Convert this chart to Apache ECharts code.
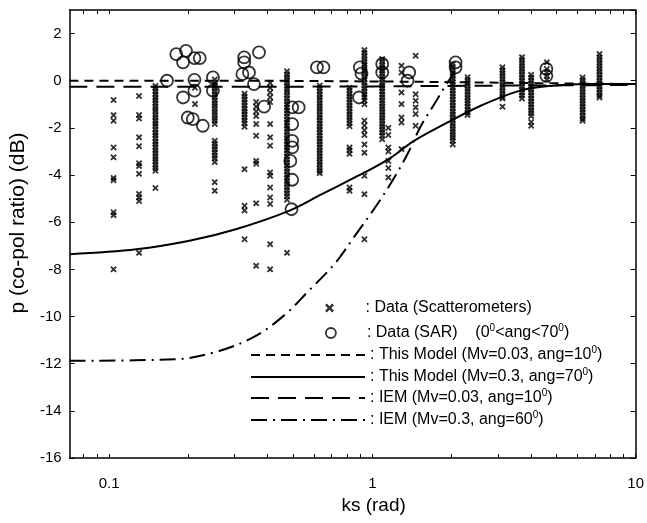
<!DOCTYPE html>
<html><head><meta charset="utf-8">
<script src="https://cdn.jsdelivr.net/npm/echarts@6/dist/echarts.min.js"></script>
<style>html,body{margin:0;padding:0;background:#fff}#c{width:647px;height:523px}</style>
</head><body><div id="c"></div>
<script>
// ---- axis ticks ----
const xMajorTicks = [0.1, 1, 10];
const xMinorTicks = [0.08, 0.09, 0.2, 0.3, 0.4, 0.5, 0.6, 0.7, 0.8, 0.9, 2, 3, 4, 5, 6, 7, 8, 9];
const xMin = 0.0708, xMax = 10;
const yMin = -16, yMax = 3, yStep = 2;

// ---- scatterometer data: one ks per column, list of p values (dB) ----
const scatKs = [0.104, 0.130, 0.150, 0.212, 0.252, 0.327, 0.362, 0.409, 0.474, 0.631, 0.819, 0.933,
  1.09, 1.15, 1.29, 1.46, 2.02, 2.30, 3.12, 3.70, 4.01, 4.60, 6.29, 7.29];
const scatP = [
  [-0.82, -1.46, -1.70, -2.83, -3.25, -4.12, -4.22, -5.58, -5.70, -8.0],
  [-0.65, -1.45, -1.60, -2.40, -2.78, -3.50, -3.62, -3.95, -4.80, -4.95, -5.10, -7.3],
  [-0.22,-0.33,-0.46,-0.58,-0.71,-0.83,-0.95,-1.08,-1.2,-1.31,-1.45,-1.57,-1.7,-1.82,-1.93,-2.07,-2.2,-2.31,-2.44,-2.58,-2.69,-2.82,-2.95,-3.07,-3.2,-3.32,-3.44,-3.57,-3.7,-3.82,-4.55],
  [-0.30, -0.99],
  [0.05,-0.08,-0.21,-0.32,-0.45,-0.57,-0.7,-0.83,-0.95,-1.07,-1.2,-1.33,-1.45,-1.58,-1.7,-1.83,-2.55,-2.67,-2.8,-2.92,-3.05,-3.18,-3.3,-3.45,-4.3,-4.67],
  [-0.55,-0.67,-0.8,-0.92,-1.05,-1.18,-1.3,-1.42,-1.55,-1.68,-1.8,-1.95,-3.75,-5.3,-5.5,-6.72],
  [-0.9, -1.1, -1.3, -1.5, -1.84, -2.33, -3.4, -3.52, -5.2, -7.85],
  [-0.1, -0.3, -0.5, -0.7, -0.9, -1.84, -2.4, -2.76, -3.89, -4.03, -4.53, -4.95, -5.23, -6.93, -8.0],
  [0.4,0.27,0.15,0.03,-0.1,-0.22,-0.36,-0.48,-0.61,-0.74,-0.87,-1.0,-1.13,-1.26,-1.39,-1.52,-1.65,-1.78,-1.91,-2.04,-2.17,-2.3,-2.43,-2.56,-2.69,-2.82,-2.95,-3.08,-3.21,-3.34,-3.47,-3.6,-3.73,-3.86,-3.99,-4.12,-4.25,-4.38,-4.51,-4.64,-4.77,-4.9,-5.05,-7.3],
  [-0.2,-0.32,-0.45,-0.57,-0.7,-0.82,-0.95,-1.07,-1.2,-1.32,-1.45,-1.57,-1.7,-1.82,-1.95,-2.07,-2.2,-2.32,-2.45,-2.57,-2.7,-2.82,-2.95,-3.07,-3.2,-3.32,-3.45,-3.57,-3.7,-3.82,-3.92],
  [-0.3,-0.42,-0.55,-0.67,-0.8,-0.92,-1.05,-1.17,-1.3,-1.42,-1.55,-1.67,-1.8,-1.93,-2.83,-2.95,-3.1,-4.53,-4.67],
  [1.3,1.18,1.05,0.92,0.8,0.67,0.55,0.42,0.3,0.17,0.05,-0.08,-0.2,-0.33,-0.45,-0.58,-0.7,-0.85,-1.0,-1.7,-1.9,-2.1,-2.3,-2.7,-3.05,-4.03,-4.81,-6.72],
  [0.92,0.8,0.67,0.55,0.42,0.3,0.17,0.05,-0.08,-0.2,-0.33,-0.45,-0.58,-0.7,-0.83,-0.95,-1.08,-1.2,-1.33,-1.45,-1.58,-1.7,-1.83,-1.95,-2.08,-2.2,-2.33,-2.48],
  [-2.0, -2.3, -2.83, -3.0, -3.4, -3.7, -4.1],
  [0.64, 0.35, -0.5, -0.99, -1.56, -1.77, -2.9],
  [1.06, -0.57, -0.85, -1.13, -1.41, -1.91],
  [0.7,0.58,0.45,0.33,0.2,0.08,-0.05,-0.17,-0.3,-0.42,-0.55,-0.67,-0.8,-0.92,-1.05,-1.17,-1.3,-1.42,-1.55,-1.67,-1.8,-1.92,-2.05,-2.17,-2.3,-2.42,-2.55,-2.7],
  [0.15,0.03,-0.1,-0.22,-0.35,-0.47,-0.6,-0.72,-0.85,-0.97,-1.1,-1.22,-1.35,-1.45],
  [0.57,0.45,0.32,0.2,0.07,-0.05,-0.18,-0.3,-0.43,-0.55,-0.68,-0.75,-1.1],
  [1.0,0.88,0.75,0.63,0.5,0.38,0.25,0.13,0.0,-0.12,-0.25,-0.37,-0.5,-0.62,-0.75],
  [0.25,0.13,0.0,-0.12,-0.25,-0.37,-0.5,-0.62,-0.75,-0.87,-1.0,-1.12,-1.25,-1.37,-1.5,-1.75,-1.91],
  [0.78, 0.5, 0.35, 0.2, 0.05],
  [0.14,0.02,-0.1,-0.23,-0.35,-0.48,-0.6,-0.73,-0.85,-0.98,-1.1,-1.23,-1.35,-1.48,-1.6,-1.7],
  [1.13,1.0,0.88,0.75,0.63,0.5,0.38,0.25,0.13,0.0,-0.12,-0.25,-0.37,-0.5,-0.62,-0.71]
];

// ---- SAR data ----
const sarKs = [0.166, 0.180, 0.196, 0.191, 0.211, 0.221, 0.191, 0.211, 0.211, 0.199, 0.208, 0.227,
  0.248, 0.248, 0.326, 0.326, 0.371, 0.321, 0.340, 0.355, 0.388, 0.496, 0.525, 0.496, 0.496, 0.496,
  0.488, 0.496, 0.493, 0.616, 0.652, 0.896, 0.909, 0.890, 1.09, 1.09, 1.38, 1.36, 2.07, 2.07, 4.58, 4.58];
const sarP = [0.0, 1.13, 1.27, 0.78, 0.96, 0.96, -0.71, 0.04, -0.42, -1.56, -1.63, -1.91,
  0.14, -0.42, 0.99, 0.78, 1.2, 0.28, 0.35, -0.14, -1.1, -1.13, -1.13, -1.84, -2.55, -2.83,
  -3.4, -4.2, -5.45, 0.57, 0.57, 0.57, 0.3, -0.71, 0.71, 0.35, 0.35, 0.0, 0.78, 0.57, 0.5, 0.21];

// ---- model curves ----
const modelDryKs = [0.0708, 0.3, 1, 2, 4, 10];
const modelDryP  = [0.0, 0.0, -0.03, -0.06, -0.1, -0.14];
const modelWetKs = [0.0708, 0.127, 0.202, 0.303, 0.482, 0.643, 0.858, 1.0, 1.18, 1.44, 1.93, 2.58, 3.64, 4.86, 6.49, 10];
const modelWetP  = [-7.36, -7.15, -6.79, -6.3, -5.52, -4.81, -4.1, -3.72, -3.25, -2.55, -1.77, -1.06, -0.42, -0.21, -0.14, -0.14];
const iemDryKs = [0.0708, 0.5, 1, 2, 4, 10];
const iemDryP  = [-0.25, -0.25, -0.24, -0.22, -0.2, -0.18];
const iemWetKs = [0.0708, 0.18, 0.262, 0.361, 0.468, 0.573, 0.681, 0.743, 0.858, 1.035, 1.18, 1.36, 1.53, 1.72, 1.93, 2.05];
const iemWetP  = [-11.88, -11.81, -11.46, -10.82, -9.9, -8.91, -8.06, -7.57, -6.58, -5.3, -4.32, -3.11, -1.91, -0.99, -0.07, 0.35];

const seriesNames = ['Data (Scatterometers)', 'Data (SAR)', 'This Model dry', 'This Model wet', 'IEM dry', 'IEM wet'];
const legendLabels = [
  ': Data (Scatterometers)',
  ': Data (SAR)    (0{sup|0}<ang<70{sup|0})',
  ': This Model (Mv=0.03, ang=10{sup|0})',
  ': This Model (Mv=0.3, ang=70{sup|0})',
  ': IEM (Mv=0.03, ang=10{sup|0})',
  ': IEM (Mv=0.3, ang=60{sup|0})'
];

const FONT = '"Liberation Sans", Arial, sans-serif';
const scatData = [];
scatKs.forEach((k, i) => scatP[i].forEach(p => scatData.push([k, p])));
const sarData = sarKs.map((k, i) => [k, sarP[i]]);
const pair = (a, b) => a.map((k, i) => [k, b[i]]);
const X_SYMBOL = 'path://M0,2L2,0L5,3L8,0L10,2L7,5L10,8L8,10L5,7L2,10L0,8L3,5Z';

const axisLine = { show: true, onZero: false, lineStyle: { color: '#000', width: 1.5 } };
function xAxisDef(pos, labels) {
  return {
    type: 'log', logBase: 10, min: xMin, max: xMax, position: pos, gridIndex: 0,
    axisLine: axisLine,
    axisTick: { show: true, inside: true, length: 4, customValues: xMajorTicks.concat(xMinorTicks), lineStyle: { color: '#000', width: 1 } },
    axisLabel: labels ? { show: true, customValues: xMajorTicks, margin: 18, fontSize: 15, color: '#000', fontFamily: FONT,
      formatter: v => String(+(+v).toPrecision(3)) } : { show: false },
    splitLine: { show: false }, minorTick: { show: false },
    name: labels ? 'ks (rad)' : '', nameLocation: 'middle', nameGap: 37,
    nameTextStyle: { fontSize: 19, color: '#000', fontFamily: FONT, padding: [0, 0, 0, 42] }
  };
}
function yAxisDef(pos, labels) {
  return {
    type: 'value', min: yMin, max: yMax, interval: yStep, position: pos,
    axisLine: axisLine,
    axisTick: { show: true, inside: true, length: 5, lineStyle: { color: '#000', width: 1 } },
    axisLabel: labels ? { show: true, margin: 8, fontSize: 15, color: '#000', fontFamily: FONT, showMaxLabel: false } : { show: false },
    splitLine: { show: false },
    name: labels ? 'p (co-pol ratio) (dB)' : '', nameLocation: 'middle', nameGap: 27,
    nameTextStyle: { fontSize: 21, color: '#000', fontFamily: FONT, padding: [0, 0, 0, 22] }
  };
}

const legendRows = [
  { left: 325, center: 308, w: 62, h: 9 },
  { left: 325, center: 333, w: 62, h: 10 },
  { left: 250, center: 355, w: 114, h: 10 },
  { left: 250, center: 377, w: 114, h: 10 },
  { left: 250, center: 398, w: 114, h: 10 },
  { left: 250, center: 420, w: 114, h: 10 }
];
const legendItemStyles = [
  null,
  { color: 'rgba(255,255,255,0)', borderColor: '#000', borderWidth: 1.8 },
  { opacity: 0 }, { opacity: 0 }, { opacity: 0 }, { opacity: 0 }
];
const legends = legendRows.map((r, i) => {
  const lg = {
    show: true, orient: 'vertical', left: r.left, top: r.center - 10, padding: 0,
    itemWidth: r.w, itemHeight: r.h, selectedMode: false,
    data: [i === 0 ? { name: seriesNames[i], icon: X_SYMBOL } : seriesNames[i]],
    formatter: () => legendLabels[i],
    textStyle: { fontSize: 16, color: '#000', fontFamily: FONT, lineHeight: 20,
      rich: { sup: { fontSize: 10, lineHeight: 20, verticalAlign: 'top', color: '#000', fontFamily: FONT } } }
  };
  if (legendItemStyles[i]) lg.itemStyle = legendItemStyles[i];
  return lg;
});

const lineSeries = (name, data, type, width) => ({
  name, type: 'line', data, symbol: 'none', smooth: 0.35, xAxisIndex: 0, yAxisIndex: 0,
  lineStyle: { color: '#000', width: width, type: type }, itemStyle: { color: '#000' }, z: 3, animation: false
});

const option = {
  backgroundColor: '#fff',
  animation: false,
  grid: { left: 67, right: 9, top: 10, bottom: 65 },
  legend: legends,
  xAxis: [xAxisDef('bottom', true), xAxisDef('top', false)],
  yAxis: [yAxisDef('left', true), yAxisDef('right', false)],
  series: [
    { name: seriesNames[0], type: 'scatter', data: scatData, symbol: X_SYMBOL, symbolSize: 6.5,
      itemStyle: { color: '#000' }, z: 2 },
    { name: seriesNames[1], type: 'scatter', data: sarData, symbol: 'circle', symbolSize: 12,
      itemStyle: { color: 'rgba(255,255,255,0)', borderColor: '#000', borderWidth: 1.8 }, z: 4 },
    lineSeries(seriesNames[2], pair(modelDryKs, modelDryP), [9, 6], 2),
    lineSeries(seriesNames[3], pair(modelWetKs, modelWetP), 'solid', 2),
    lineSeries(seriesNames[4], pair(iemDryKs, iemDryP), [18, 9], 2),
    lineSeries(seriesNames[5], pair(iemWetKs, iemWetP), [16, 6, 2, 6], 2)
  ]
};
const chart = echarts.init(document.getElementById('c'), null, { renderer: 'canvas' });
chart.setOption(option);
</script>
</body></html>
